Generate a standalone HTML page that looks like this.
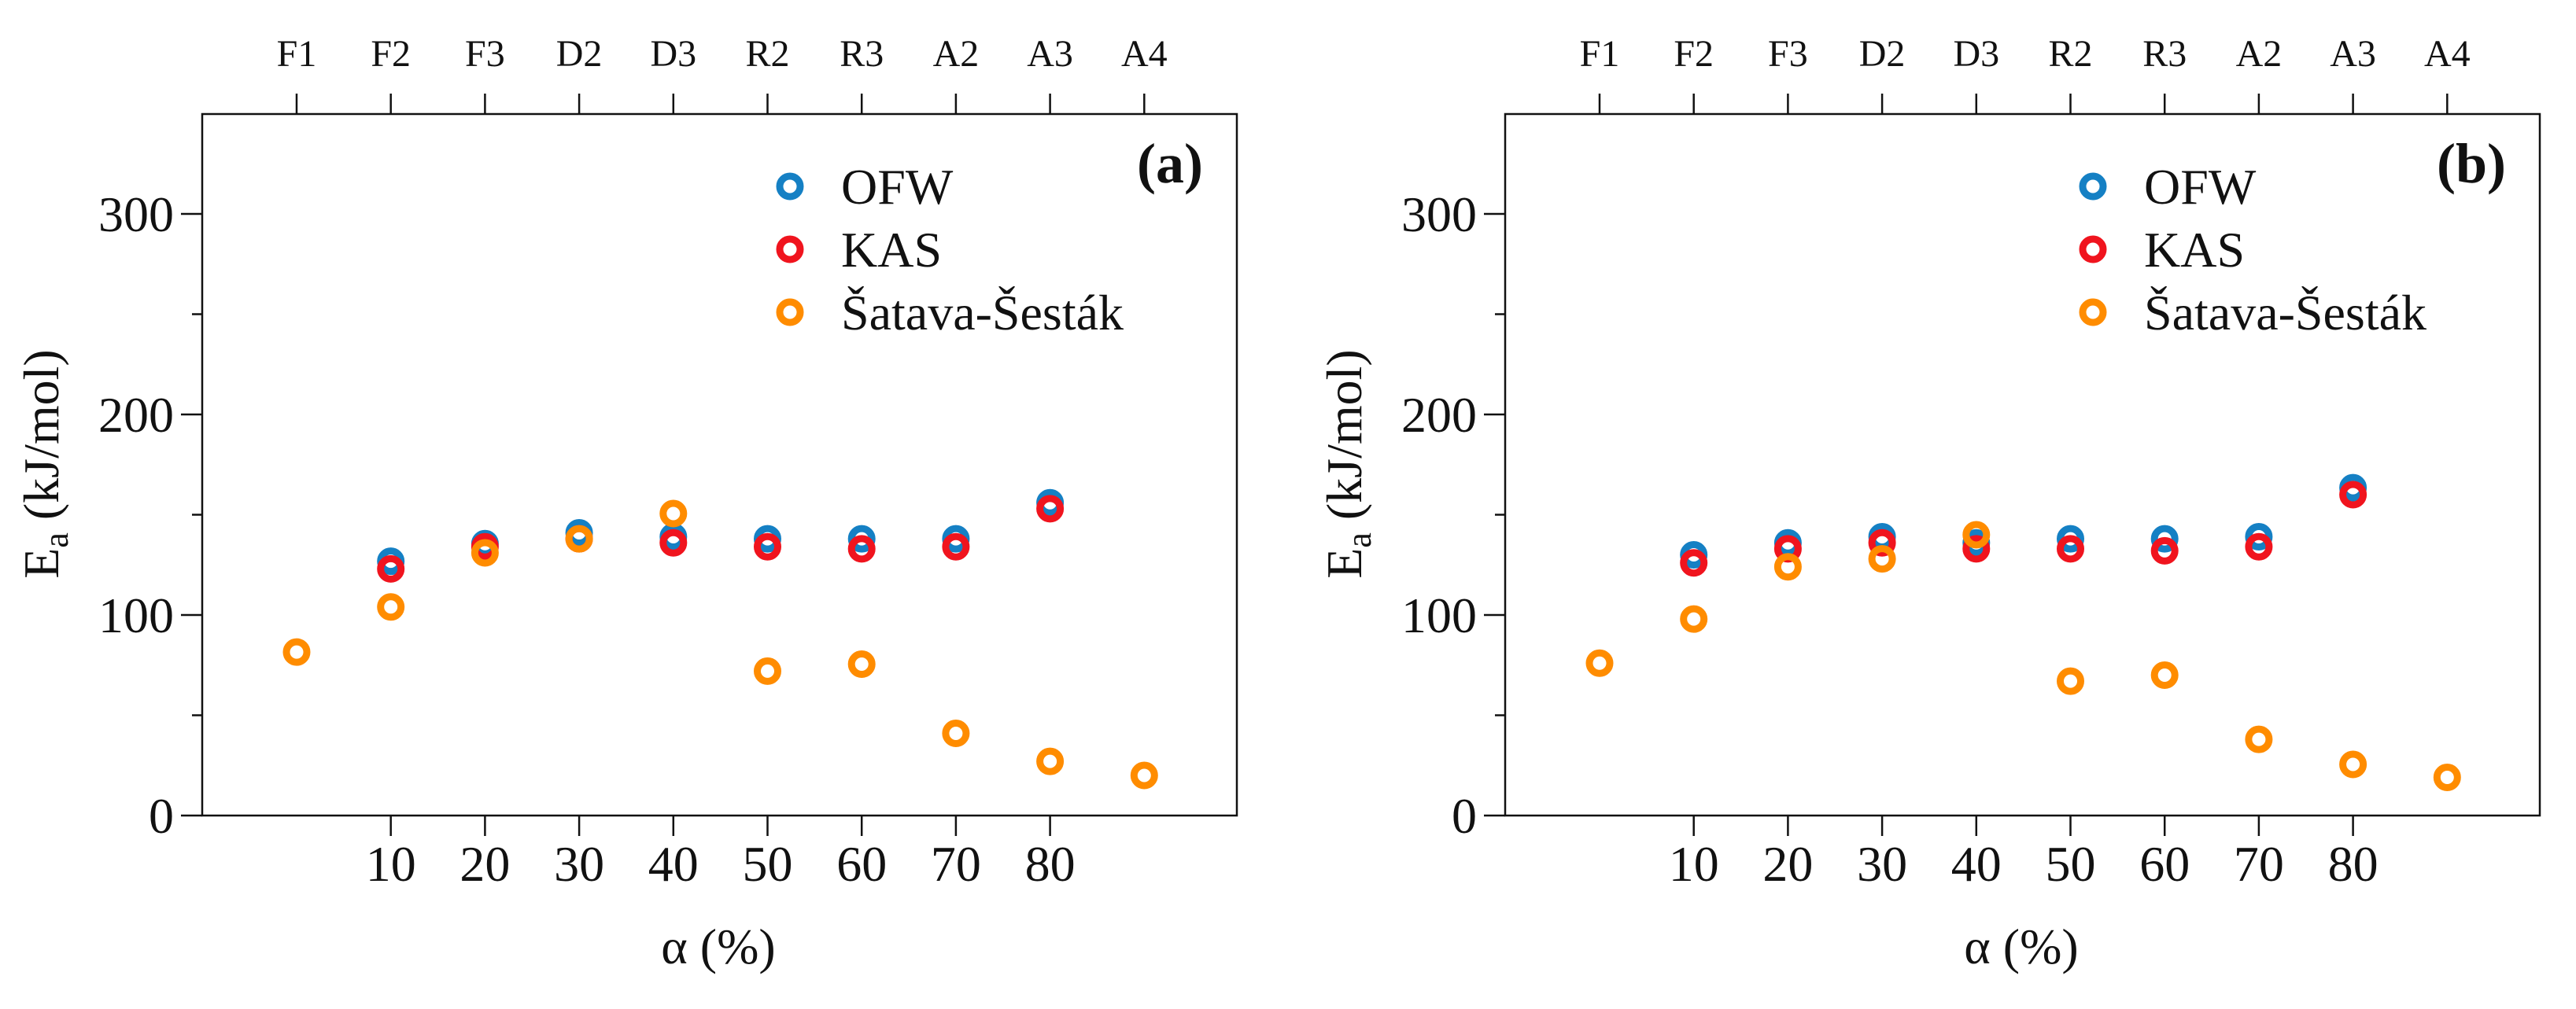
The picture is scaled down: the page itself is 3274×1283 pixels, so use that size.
<!DOCTYPE html>
<html><head><meta charset="utf-8"><style>
html,body{margin:0;padding:0;background:#fff;}
svg{display:block;font-family:"Liberation Serif",serif;}
</style></head><body>
<svg id="chart" width="3274" height="1283" viewBox="0 0 3274 1283" xmlns="http://www.w3.org/2000/svg"></svg>
<script>
const topLabels = ["F1","F2","F3","D2","D3","R2","R3","A2","A3","A4"];
const bottomLabels = ["","10","20","30","40","50","60","70","80",""];
const yTicks = [0,100,200,300];
const yMinor = [50,150,250];
const seriesNames = ["OFW","KAS","Šatava-Šesták"];
const seriesColors = ["#1580c4","#f0141e","#ff8c00"];
// panel (a), index = category position (0=F1 ... 9=A4), null = no point
const aOFW = [null,126.8,135.6,141,139,138,138,138,156,null];
const aKAS = [null,123,134,138,136,134,133,134,153,null];
const aSS  = [81.5,104,131,138,150.6,72,75.5,41,27,20];
// panel (b)
const bOFW = [null,130,136,139,136,138,138,139,163.5,null];
const bKAS = [null,126,133,136,133,133,132,134,160,null];
const bSS  = [76,98,124,128,140,67,70,38,25.5,19];

const svg = document.getElementById('chart');
const NS = "http://www.w3.org/2000/svg";
function mk(tag, attrs, parent){
  const e = document.createElementNS(NS, tag);
  for (const k in attrs) e.setAttribute(k, attrs[k]);
  (parent||svg).appendChild(e);
  return e;
}

function drawPanel(offset, letter, data){
  const L = 257+offset, R = 1572+offset, T = 145, B = 1037;
  const xPos = i => 377 + offset + 119.7*i;
  const yPos = v => B - (v/100)*255;
  const g = mk('g', {});
  
  
  const frame = mk('path', {d:`M${L} ${T} L${R} ${T} L${R} ${B} L${L} ${B} Z`, fill:'none', stroke:'#111', 'stroke-width':2.5}, g);
  
  
  // y ticks
  yTicks.forEach(v => {
    const y = yPos(v);
    const t = mk('line', {x1:L-27, x2:L, y1:y, y2:y, stroke:'#111', 'stroke-width':2.5}, g);
    
    
    const tx = mk('text', {x:L-36, y:y+22, 'font-size':64, 'text-anchor':'end', fill:'#111'}, g);
    tx.textContent = v;
    
    
  });
  yMinor.forEach(v => {
    const y = yPos(v);
    const t = mk('line', {x1:L-13, x2:L, y1:y, y2:y, stroke:'#111', 'stroke-width':2.5}, g);
    
    
  });
  // top & bottom category ticks
  topLabels.forEach((lab, i) => {
    const x = xPos(i);
    const t = mk('line', {x1:x, x2:x, y1:T-26, y2:T, stroke:'#111', 'stroke-width':2.5}, g);
    
    
    const tx = mk('text', {x:x, y:84, 'font-size':48, 'text-anchor':'middle', fill:'#111'}, g);
    tx.textContent = lab;
    
    
    if (bottomLabels[i]) {
      const b = mk('line', {x1:x, x2:x, y1:B, y2:B+26, stroke:'#111', 'stroke-width':2.5}, g);
      
      
      const bt = mk('text', {x:x, y:1120, 'font-size':64, 'text-anchor':'middle', fill:'#111'}, g);
      bt.textContent = bottomLabels[i];
      
      
    }
  });
  // axis titles
  const xt = mk('text', {x:913+offset, y:1225, 'font-size':64, 'text-anchor':'middle', fill:'#111'}, g);
  xt.textContent = 'α (%)';
  
  
  const yt = mk('text', {x:0, y:0, 'font-size':64, 'text-anchor':'middle', fill:'#111', transform:`translate(${74+offset},590) rotate(-90)`}, g);
  yt.innerHTML = 'E<tspan font-size="44" dy="12">a</tspan><tspan dy="-12"> (kJ/mol)</tspan>';
  
  
  // panel letter
  const pl = mk('text', {x:1529+offset, y:232, 'font-size':72, 'font-weight':'bold', 'text-anchor':'end', fill:'#111'}, g);
  pl.textContent = '('+letter+')';
  
  
  // legend
  const legY = [237,317,397];
  seriesNames.forEach((n, k) => {
    const c = mk('circle', {cx:1004+offset, cy:legY[k], r:13, fill:'none', stroke:seriesColors[k], 'stroke-width':9}, g);
    
    
    const t = mk('text', {x:1069+offset, y:legY[k]+22, 'font-size':64, fill:'#111'}, g);
    t.textContent = n;
    
    
  });
  // series
  data.forEach((arr, k) => {
    arr.forEach((v, i) => {
      if (v === null) return;
      const c = mk('circle', {cx:xPos(i), cy:yPos(v), r:13, fill:'none', stroke:seriesColors[k], 'stroke-width':9}, g);
      
      
    });
  });
}
drawPanel(0, 'a', [aOFW, aKAS, aSS]);
drawPanel(1656, 'b', [bOFW, bKAS, bSS]);
</script>
</body></html>
